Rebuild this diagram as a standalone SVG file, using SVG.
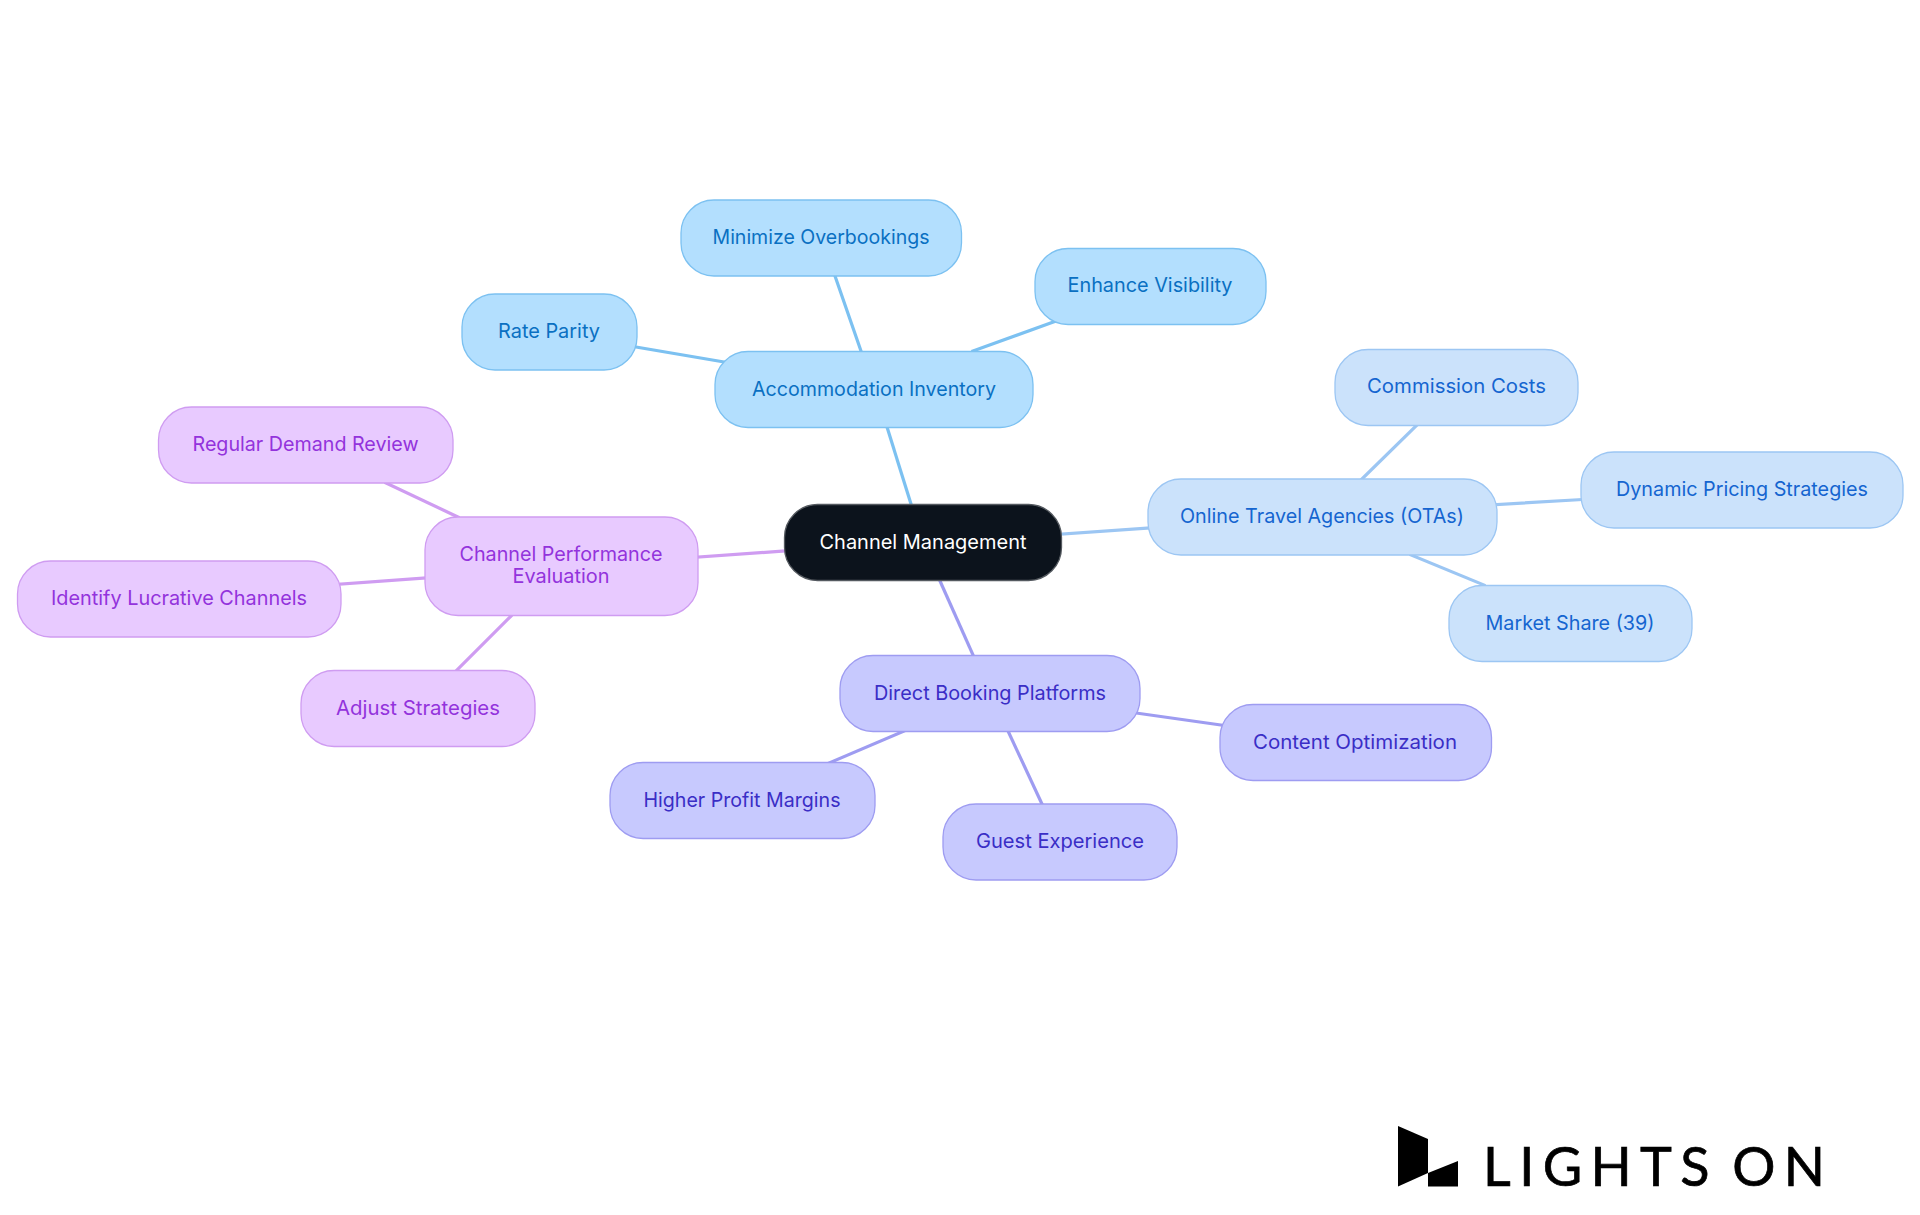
<svg xmlns="http://www.w3.org/2000/svg" width="1920" height="1215" viewBox="0 0 1920 1215">
<style>
text{font-family:"Inter","Noto Sans","Liberation Sans",sans-serif;font-size:20px;text-anchor:middle}
rect{stroke-width:1.3;rx:33px}
line{stroke-width:3.2;stroke-linecap:square}
.a rect{fill:#b3dffe;stroke:#7cc1f1}.a text{fill:#0a70c2}
.o rect{fill:#cbe2fb;stroke:#9cc6f3}.o text{fill:#1565d0}
.d rect{fill:#c7c9fe;stroke:#9e9cf1}.d text{fill:#3a2ec6}
.p rect{fill:#e8caff;stroke:#cf9cf1}.p text{fill:#9333dc}
.la{stroke:#7cc1f1}.lo{stroke:#9cc6f3}.ld{stroke:#9e9cf1}.lp{stroke:#cf9cf1}
</style>
<g id="connectors">
<line class="la" x1="911" y1="504" x2="887" y2="427"/>
<line class="la" x1="636" y1="347" x2="724" y2="362"/>
<line class="la" x1="835" y1="276" x2="861" y2="351"/>
<line class="la" x1="973" y1="351" x2="1056" y2="321"/>
<line class="lo" x1="1062" y1="534" x2="1149" y2="528"/>
<line class="lo" x1="1362" y1="479" x2="1417" y2="425"/>
<line class="lo" x1="1497" y1="504.5" x2="1581" y2="499.6"/>
<line class="lo" x1="1411" y1="555" x2="1484" y2="585"/>
<line class="ld" x1="940" y1="581" x2="973" y2="655"/>
<line class="ld" x1="1136" y1="713" x2="1221" y2="725"/>
<line class="ld" x1="1008" y1="731" x2="1042" y2="804"/>
<line class="ld" x1="904" y1="731" x2="829" y2="763"/>
<line class="lp" x1="698" y1="557" x2="784" y2="551"/>
<line class="lp" x1="386" y1="483" x2="458" y2="517"/>
<line class="lp" x1="341" y1="584" x2="425" y2="578"/>
<line class="lp" x1="511" y1="616" x2="457" y2="670"/>
</g>
<g id="n-center"><rect x="784.5" y="504.5" width="277" height="76" fill="#0c131c" stroke="#555a60"/><text x="923" y="549" fill="#fff" textLength="207" lengthAdjust="spacingAndGlyphs">Channel Management</text></g>
<g id="n-accommodation" class="a"><rect x="715" y="351.5" width="318" height="76"/><text x="874" y="396" textLength="244" lengthAdjust="spacingAndGlyphs">Accommodation Inventory</text></g>
<g id="n-rate" class="a"><rect x="462" y="294" width="175" height="76"/><text x="549" y="338" textLength="102" lengthAdjust="spacingAndGlyphs">Rate Parity</text></g>
<g id="n-minimize" class="a"><rect x="681" y="200" width="280.500" height="76"/><text x="821" y="244" textLength="217" lengthAdjust="spacingAndGlyphs">Minimize Overbookings</text></g>
<g id="n-enhance" class="a"><rect x="1035" y="248.500" width="231" height="76"/><text x="1150" y="292" textLength="165" lengthAdjust="spacingAndGlyphs">Enhance Visibility</text></g>
<g id="n-ota" class="o"><rect x="1148" y="479" width="349" height="76"/><text x="1322" y="523" textLength="284" lengthAdjust="spacingAndGlyphs">Online Travel Agencies (OTAs)</text></g>
<g id="n-commission" class="o"><rect x="1335" y="349.500" width="243" height="76"/><text x="1456.500" y="393" textLength="179" lengthAdjust="spacingAndGlyphs">Commission Costs</text></g>
<g id="n-dynamic" class="o"><rect x="1581" y="452" width="322" height="76"/><text x="1742" y="496" textLength="252" lengthAdjust="spacingAndGlyphs">Dynamic Pricing Strategies</text></g>
<g id="n-market" class="o"><rect x="1449" y="585.500" width="243" height="76"/><text x="1570" y="630" textLength="169" lengthAdjust="spacingAndGlyphs">Market Share (39)</text></g>
<g id="n-direct" class="d"><rect x="840" y="655.500" width="300" height="76"/><text x="990" y="700" textLength="232" lengthAdjust="spacingAndGlyphs">Direct Booking Platforms</text></g>
<g id="n-content" class="d"><rect x="1220" y="704.500" width="271.500" height="76"/><text x="1355" y="749" textLength="204" lengthAdjust="spacingAndGlyphs">Content Optimization</text></g>
<g id="n-guest" class="d"><rect x="943" y="804" width="234" height="76"/><text x="1060" y="848" textLength="168" lengthAdjust="spacingAndGlyphs">Guest Experience</text></g>
<g id="n-higher" class="d"><rect x="610" y="762.500" width="265" height="76"/><text x="742" y="807" textLength="197" lengthAdjust="spacingAndGlyphs">Higher Profit Margins</text></g>
<g id="n-performance" class="p"><rect x="425" y="517" width="273" height="98.500"/><text x="561" y="561" textLength="203" lengthAdjust="spacingAndGlyphs">Channel Performance</text><text x="561" y="583" textLength="97" lengthAdjust="spacingAndGlyphs">Evaluation</text></g>
<g id="n-regular" class="p"><rect x="158.500" y="407" width="294.500" height="76"/><text x="305.500" y="451" textLength="226" lengthAdjust="spacingAndGlyphs">Regular Demand Review</text></g>
<g id="n-identify" class="p"><rect x="17.500" y="561" width="323.500" height="76"/><text x="179" y="605" textLength="256" lengthAdjust="spacingAndGlyphs">Identify Lucrative Channels</text></g>
<g id="n-adjust" class="p"><rect x="301" y="670.500" width="234" height="76"/><text x="418" y="715" textLength="164" lengthAdjust="spacingAndGlyphs">Adjust Strategies</text></g>
<g id="logo">
<polygon points="1398,1126 1428,1139 1428,1173 1398,1186.500" fill="#000"/>
<polygon points="1428,1173 1458,1161 1458,1186.500 1428,1186.500" fill="#000"/>
<text x="1483" y="1186" fill="#000" stroke="#000" stroke-width="0.7" style="font-family:Lato,'Open Sans',sans-serif;font-size:54px;text-anchor:start;word-spacing:-8px;letter-spacing:8.4px">LIGHTS ON</text>
</g>
</svg>
